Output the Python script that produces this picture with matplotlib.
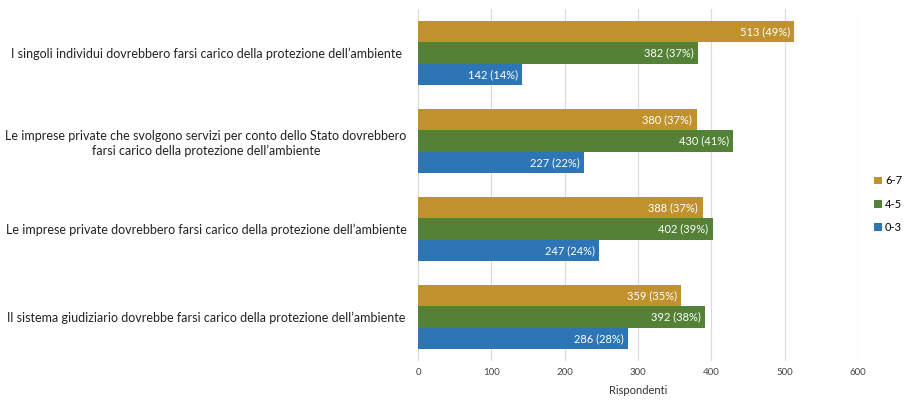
import matplotlib
matplotlib.use("Agg")
import matplotlib.pyplot as plt
import numpy as np

statements = [
    "I singoli individui dovrebbero farsi carico della protezione dell\u2019ambiente",
    "Le imprese private che svolgono servizi per conto dello Stato dovrebbero\nfarsi carico della protezione dell\u2019ambiente",
    "Le imprese private dovrebbero farsi carico della protezione dell\u2019ambiente",
    "Il sistema giudiziario dovrebbe farsi carico della protezione dell\u2019ambiente",
]
series = ["6-7", "4-5", "0-3"]
counts = {
    "6-7": [513, 380, 388, 359],
    "4-5": [382, 430, 402, 392],
    "0-3": [142, 227, 247, 286],
}
pcts = {
    "6-7": [49, 37, 37, 35],
    "4-5": [37, 41, 39, 38],
    "0-3": [14, 22, 24, 28],
}
colors = {"6-7": "#C0922E", "4-5": "#538135", "0-3": "#2E75B6"}

plt.rcParams["font.family"] = ["Lato", "DejaVu Sans"]

fig = plt.figure(figsize=(9.05, 4.0), dpi=100)
ax = fig.add_axes([418 / 905, 1 - 361 / 400, 440 / 905, 352 / 400])

h = 0.245
y = np.arange(len(statements))
for i, s in enumerate(series):
    pos = y + (i - 1) * h
    bars = ax.barh(pos, counts[s], height=h, color=colors[s], label=s, zorder=2)
    for b, c, p in zip(bars, counts[s], pcts[s]):
        ax.text(b.get_width() - 6, b.get_y() + b.get_height() / 2,
                f"{c} ({p}%)", color="white", fontsize=8,
                ha="right", va="center", zorder=3)

ax.set_ylim(len(statements) - 0.5, -0.5)
ax.set_xlim(0, 600)
ax.set_xticks(range(0, 601, 100))
ax.set_yticks(y)
ax.set_yticklabels(statements, fontsize=9, color="#222222", ha="center",
                   linespacing=1.25)
# label centres sit ~210 px left of the axis
ax.tick_params(axis="y", length=0, pad=212 * 0.72)
ax.tick_params(axis="x", length=0, labelsize=7, labelcolor="#444444", pad=5)
ax.grid(axis="x", color="#D9D9D9", linewidth=0.8, zorder=0)
for sp in ax.spines.values():
    sp.set_visible(False)
ax.set_xlabel("Rispondenti", fontsize=8, color="#333333", labelpad=6)

handles, labels = ax.get_legend_handles_labels()
fig.legend(handles, labels, loc="center left", bbox_to_anchor=(874 / 905, 0.49),
           frameon=False, fontsize=8, handlelength=0.7, handleheight=0.7,
           handletextpad=0.3, labelspacing=1.1, borderpad=0, borderaxespad=0)

fig.savefig("out.png", dpi=100)
